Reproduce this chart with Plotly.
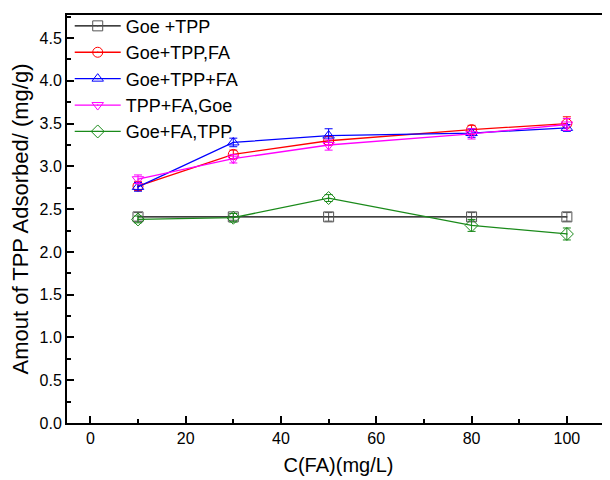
import plotly.graph_objects as go

x_vals = [10, 30, 50, 80, 100]
names = ["Goe +TPP", "Goe+TPP,FA", "Goe+TPP+FA", "TPP+FA,Goe", "Goe+FA,TPP"]
goe_tpp = [2.41, 2.41, 2.41, 2.41, 2.41]
goe_tpp_fa_c = [2.77, 3.14, 3.30, 3.43, 3.50]
goe_tpp_fa_p = [2.76, 3.28, 3.36, 3.39, 3.45]
tpp_fa_goe = [2.85, 3.09, 3.25, 3.38, 3.49]
goe_fa_tpp = [2.38, 2.40, 2.63, 2.31, 2.21]
err_goe_tpp = [0.05, 0.04, 0.05, 0.05, 0.05]
err_goe_tpp_fa_c = [0.05, 0.05, 0.05, 0.05, 0.08]
err_goe_tpp_fa_p = [0.05, 0.05, 0.08, 0.05, 0.04]
err_tpp_fa_goe = [0.05, 0.05, 0.06, 0.06, 0.07]
err_goe_fa_tpp = [0.04, 0.05, 0.04, 0.07, 0.07]

series = [goe_tpp, goe_tpp_fa_c, goe_tpp_fa_p, tpp_fa_goe, goe_fa_tpp]
errors = [err_goe_tpp, err_goe_tpp_fa_c, err_goe_tpp_fa_p, err_tpp_fa_goe, err_goe_fa_tpp]
colors = ["#000000", "#ff0000", "#0000ff", "#ff00ff", "#1a8a1a"]
marker_colors = ["#555555", "#ff0000", "#0000ff", "#ff00ff", "#1a8a1a"]
symbols = ["square-open-dot", "circle-open-dot", "triangle-up-open-dot",
           "triangle-down-open-dot", "diamond-open-dot"]

fig = go.Figure()
for name, ys, es, c, mc, s in zip(names, series, errors, colors, marker_colors, symbols):
    fig.add_trace(go.Scatter(
        x=x_vals, y=ys, name=name, mode="lines+markers",
        line=dict(color=c, width=1.3),
        marker=dict(symbol=s, size=10, color=mc, line=dict(color=mc, width=1)),
        error_y=dict(type="data", array=es, visible=True, color=mc, thickness=1, width=4),
    ))

# page body has an 8px default margin; figure is sized to compensate
fig.update_layout(
    width=610, height=472,
    margin=dict(l=59, r=8, t=7, b=57, autoexpand=False),
    paper_bgcolor="white", plot_bgcolor="white",
    font=dict(family="Liberation Sans, Arial, sans-serif", size=16, color="#000000"),
    legend=dict(x=0.005, y=1.018, xanchor="left", yanchor="top",
                font=dict(size=18), bgcolor="rgba(0,0,0,0)",
                tracegroupgap=0, itemwidth=46),
    showlegend=True,
)
fig.update_xaxes(
    range=[-4.9, 109.05], tickvals=[0, 20, 40, 60, 80, 100],
    ticks="inside", ticklen=7, tickwidth=1.5, tickcolor="black",
    minor=dict(dtick=10, ticks="inside", ticklen=4, tickwidth=1.5, tickcolor="black"),
    showline=True, linecolor="black", linewidth=2, mirror=True,
    showgrid=False, zeroline=False, automargin=False,
    title=dict(text="C(FA)(mg/L)", font=dict(size=20), standoff=12),
)
fig.update_yaxes(
    range=[0, 4.77], dtick=0.5, tickformat=".1f",
    ticks="inside", ticklen=7, tickwidth=1.5, tickcolor="black",
    minor=dict(dtick=0.25, ticks="inside", ticklen=4, tickwidth=1.5, tickcolor="black"),
    showline=True, linecolor="black", linewidth=2, mirror=False,
    showgrid=False, zeroline=False, automargin=False,
    title=dict(text="Amout of TPP Adsorbed/ (mg/g)", font=dict(size=22), standoff=6),
)

fig.write_html("out.html")
